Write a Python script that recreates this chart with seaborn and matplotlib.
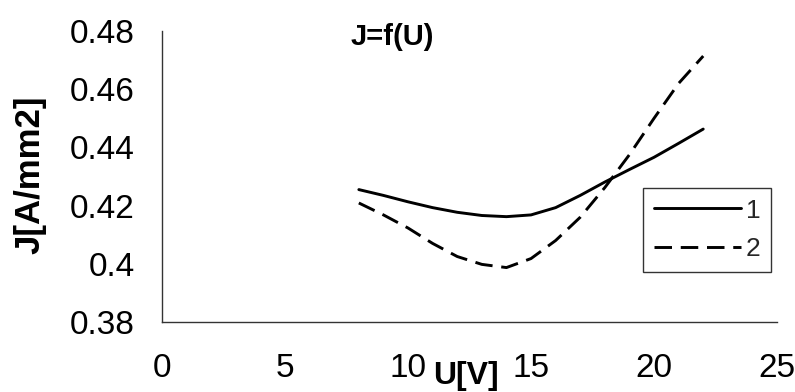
import matplotlib
matplotlib.use("Agg")
import matplotlib.pyplot as plt
import seaborn as sns
import pandas as pd

# Data
U = [8, 9, 10, 11, 12, 13, 14, 15, 16, 17, 18, 19, 20, 21, 22]
J1 = [0.4255, 0.4235, 0.4213, 0.4193, 0.4177, 0.4166, 0.4162, 0.4168,
      0.4193, 0.4235, 0.4281, 0.4324, 0.4366, 0.4414, 0.4463]
J2 = [0.4209, 0.4168, 0.4123, 0.4070, 0.4025, 0.3998, 0.3987, 0.4018,
      0.4080, 0.4160, 0.4262, 0.4375, 0.4500, 0.4620, 0.4714]
series_names = ["1", "2"]
x_ticks = [0, 5, 10, 15, 20, 25]
y_ticks = [0.38, 0.40, 0.42, 0.44, 0.46, 0.48]
y_tick_labels = ["0.38", "0.4", "0.42", "0.44", "0.46", "0.48"]

df = pd.DataFrame({
    "U": U + U,
    "J": J1 + J2,
    "series": [series_names[0]] * len(U) + [series_names[1]] * len(U),
})

sns.set_theme(style="white")
plt.rcParams["font.family"] = ["Liberation Sans", "DejaVu Sans"]

fig = plt.figure(figsize=(7.95, 3.92), dpi=100)
ax = fig.add_axes([0.2038, 0.1786, 0.7736, 0.7423])

sns.lineplot(data=df, x="U", y="J", style="series",
             dashes={"1": "", "2": (6, 3)}, color="black",
             linewidth=2.1, ax=ax, legend=False)

ax.set_xlim(0, 25)
ax.set_ylim(0.38, 0.48)
ax.set_xticks(x_ticks)
ax.set_xticklabels([str(t) for t in x_ticks])
ax.set_yticks(y_ticks)
ax.set_yticklabels(y_tick_labels)

for s in ["top", "right"]:
    ax.spines[s].set_visible(False)
for s in ["left", "bottom"]:
    ax.spines[s].set_color("#333333")
    ax.spines[s].set_linewidth(1.0)

ax.tick_params(axis="both", direction="out", length=7.5, width=0.9,
               color="#333333", labelsize=24, labelcolor="black")
ax.tick_params(axis="y", pad=12)
ax.tick_params(axis="x", pad=15)

ax.set_xlabel("U[V]", fontsize=23, fontweight="bold", color="black")
ax.xaxis.set_label_coords(0.494, -0.185)
ax.xaxis.label.set_verticalalignment("center")

ax.set_ylabel("J[A/mm2]", fontsize=25, fontweight="bold", color="black")
ax.yaxis.set_label_coords(-0.215, 0.505)
ax.yaxis.label.set_verticalalignment("center")

ax.text(0.374, 0.979, "J=f(U)", transform=ax.transAxes, ha="center",
        va="center", fontsize=21, fontweight="bold", color="black")

lines = ax.get_lines()
leg = ax.legend(lines[:2], series_names, loc="upper left",
                bbox_to_anchor=(0.782, 0.46), borderaxespad=0,
                fontsize=19, handlelength=3.3, handletextpad=0.2,
                labelspacing=0.55, borderpad=0.4, frameon=True,
                fancybox=False, shadow=False, framealpha=1)
leg.get_frame().set_edgecolor("#333333")
leg.get_frame().set_linewidth(1.0)

fig.savefig("out.png", dpi=100)
